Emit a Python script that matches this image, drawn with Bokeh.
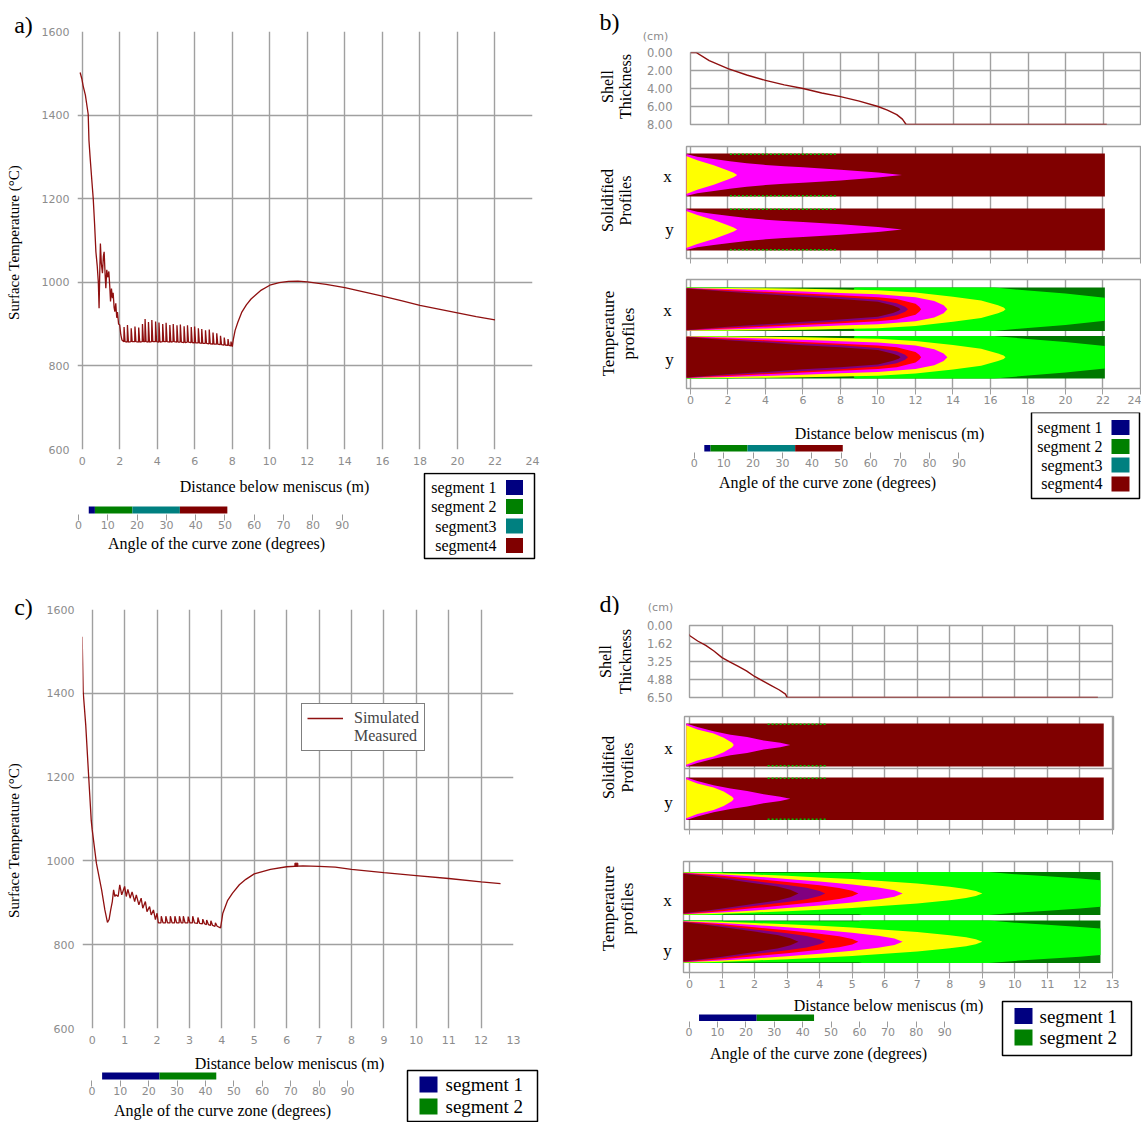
import math
from bokeh.plotting import figure
from bokeh.models import (Range1d, FixedTicker, Label, Legend, LegendItem, LinearAxis, Grid,
                          NumeralTickFormatter, Span)
from bokeh.layouts import column, row
from bokeh.embed import file_html
from bokeh.resources import INLINE
from bokeh.core.properties import value

SERIF = "Liberation Serif"
SANS = "DejaVu Sans"
TICK_GRAY = "#8c8c8c"
GRID = "#a0a0a0"
CURVE = "#8f1010"

# ============================ DATA ============================
# ---- (a) surface temperature, 4-segment caster ----
a_head_x = [-0.11, -0.02, 0.05, 0.17, 0.32, 0.36, 0.42, 0.52, 0.59, 0.66, 0.73, 0.80, 0.86, 0.90,
            0.93, 0.97, 1.02, 1.08, 1.13, 1.17, 1.22, 1.26, 1.31, 1.36, 1.42, 1.47, 1.51, 1.56,
            1.61, 1.65, 1.70, 1.74, 1.79, 1.84, 1.88, 1.94, 2.00, 2.06, 2.12]
a_head_t = [1502, 1487, 1470, 1448, 1402, 1340, 1300, 1240, 1199, 1140, 1073, 1040, 1000, 938,
            1010, 1093, 1045, 1022, 1062, 1073, 1020, 986, 1030, 1012, 1026, 990, 954, 985,
            962, 975, 940, 930, 950, 915, 929, 900, 898, 874, 862]
a_spike_x = [2.22, 2.40, 2.60, 2.80, 3.00, 3.20, 3.34, 3.52, 3.70, 3.90, 4.08, 4.28, 4.46, 4.66,
             4.84, 5.04, 5.22, 5.42, 5.60, 5.80, 5.98, 6.18, 6.36, 6.56, 6.76, 6.96, 7.16, 7.36,
             7.56, 7.76, 7.92]
a_spike_base = [858, 857, 858, 858, 857, 858, 858, 857, 858, 858, 857, 858, 858, 857, 858, 857,
                857, 856, 857, 856, 855, 855, 854, 854, 853, 852, 852, 851, 850, 849, 848]
a_spike_peak = [893, 898, 890, 894, 892, 900, 912, 905, 910, 906, 904, 900, 903, 898, 900, 897,
                899, 895, 897, 893, 894, 890, 888, 885, 887, 880, 878, 872, 868, 864, 858]
a_tail_x = [8.00, 8.05, 8.15, 8.30, 8.50, 8.75, 9.00, 9.50, 10.0, 10.5, 11.0, 11.5, 12.0, 13.0,
            14.0, 15.0, 16.0, 17.0, 18.0, 19.0, 20.0, 21.0, 22.0]
a_tail_t = [846, 862, 885, 905, 928, 946, 960, 980, 993, 999, 1002, 1003, 1001, 995, 987, 977,
            967, 956, 945, 936, 927, 918, 910]

# ---- (c) surface temperature, 2-segment caster ----
c_head_x = [-0.31, -0.28, -0.20, -0.11, -0.03, 0.00, 0.13, 0.29, 0.39, 0.47, 0.52, 0.57, 0.62,
            0.66, 0.70, 0.73, 0.80, 0.85, 0.91, 1.00, 1.05, 1.10, 1.17, 1.23, 1.31, 1.36, 1.44,
            1.51, 1.56, 1.64, 1.69, 1.77, 1.82, 1.89, 1.95, 2.00, 2.04]
c_head_t = [1535, 1405, 1324, 1202, 1096, 1074, 994, 931, 883, 853, 860, 883, 903, 931, 915,
            919, 915, 943, 919, 939, 915, 932, 911, 926, 903, 919, 895, 911, 887, 903, 879, 891,
            871, 883, 860, 875, 852]
c_spike_x = [2.12, 2.26, 2.40, 2.54, 2.68, 2.80, 2.95, 3.09, 3.25, 3.40, 3.52, 3.65, 3.79]
c_spike_base = [852, 852, 852, 852, 852, 852, 852, 852, 851, 850, 848, 846, 844]
c_spike_peak = [868, 868, 868, 868, 868, 868, 867, 868, 865, 861, 859, 857, 852]
c_tail_x = [3.96, 4.03, 4.18, 4.33, 4.54, 4.74, 5.0, 5.5, 6.0, 6.5, 7.0, 7.5, 8.0, 9.0, 10.0,
            11.0, 12.0, 12.6]
c_tail_t = [840, 875, 906, 923, 943, 956, 969, 980, 986, 988, 987, 985, 980, 972, 965, 958, 950,
            946]
c_meas_x = [6.3]
c_meas_t = [991]

# ---- angle of the curve zone (degrees) ----
angle_ticks = [0, 10, 20, 30, 40, 50, 60, 70, 80, 90]
a_seg_start = [3.5, 5.6, 18.4, 34.6]
a_seg_end = [5.6, 18.4, 34.6, 50.8]
b_seg_start = [3.4, 5.5, 18.1, 34.3]
b_seg_end = [5.5, 18.1, 34.3, 50.5]
c_seg_start = [3.6, 23.8]
c_seg_end = [23.8, 43.8]
d_seg_start = [3.5, 23.8]
d_seg_end = [23.8, 44.0]
seg_names4 = ["segment 1", "segment 2", "segment3", "segment4"]
seg_names2 = ["segment 1", "segment 2"]
seg_colors4 = ["#000080", "#008000", "#008080", "#800000"]
seg_colors2 = ["#000080", "#008000"]

# ---- (b) shell thickness (cm) ----
b_shell_x = [0, 0.3, 1, 2, 3, 4, 5, 6, 7, 8, 9, 10, 10.5, 11, 11.3, 11.5, 22.2]
b_shell_y = [0, 0, 0.9, 1.8, 2.5, 3.1, 3.6, 4.0, 4.5, 4.9, 5.4, 6.0, 6.4, 6.9, 7.4, 8.0, 8.0]
b_shell_ticks = [0, 2, 4, 6, 8]
# ---- (d) shell thickness (cm) ----
d_shell_x = [-0.28, -0.1, 0, 0.25, 0.5, 0.75, 1.0, 1.25, 1.5, 1.75, 2.0, 2.25, 2.5, 2.75, 2.95,
             3.0, 12.55]
d_shell_y = [0, 0.5, 0.9, 1.4, 1.8, 2.3, 2.9, 3.3, 3.7, 4.1, 4.6, 5.0, 5.4, 5.8, 6.2, 6.5, 6.5]
d_shell_ticks = [0, 1.62, 3.25, 4.88, 6.5]

# ---- solidified profiles: half-width fraction of strand vs distance ----
b_strip_x = [-0.23, 22.1]
b_sol_mag_x = [-0.23, 0.36, 1.24, 2.1, 3.0, 4.0, 5.0, 6.0, 8.0, 10.0, 11.28]
b_sol_mag_w = [0.98, 0.85, 0.74, 0.64, 0.55, 0.47, 0.41, 0.36, 0.25, 0.12, 0]
b_sol_yel_x = [-0.23, 0.36, 1.24, 1.96, 2.3, 2.49]
b_sol_yel_w = [0.88, 0.69, 0.45, 0.22, 0.10, 0]
b_sol_dots = [2.1, 7.8]
d_sol_strip_x = [-0.1, 12.73]
d_sol_mag_x = [-0.1, 0.24, 0.74, 1.26, 1.77, 2.28, 2.79, 3.1]
d_sol_mag_w = [1.0, 0.84, 0.64, 0.48, 0.37, 0.21, 0.10, 0]
d_sol_yel_x = [-0.1, 0.24, 0.74, 1.05, 1.31, 1.36]
d_sol_yel_w = [0.92, 0.72, 0.53, 0.34, 0.10, 0]
d_sol_dots = [2.4, 4.2]

# ---- temperature profiles: isotherm half-width fraction vs distance ----
b_tmp_lime_x = [-0.23, 2.0, 3.0, 6.9, 8.7, 8.75, 16.2, 18.0, 20.0, 22.1]
b_tmp_lime_w = [1.0, 1.0, 0.97, 0.92, 0.88, 1.0, 1.0, 0.86, 0.72, 0.53]
b_tmp_yel_x = [-0.23, 2, 4, 6, 8, 10, 12, 14, 15.5, 16.4, 16.7, 16.8]
b_tmp_yel_w = [0.99, 0.98, 0.96, 0.94, 0.91, 0.87, 0.77, 0.58, 0.40, 0.18, 0.08, 0]
b_tmp_mag_x = [-0.23, 2, 4, 6, 8, 10, 12, 13, 13.5, 13.7]
b_tmp_mag_w = [0.98, 0.93, 0.88, 0.82, 0.75, 0.69, 0.55, 0.38, 0.18, 0]
b_tmp_red_x = [-0.23, 2, 4, 6, 8, 10, 11, 12, 12.2, 12.3]
b_tmp_red_w = [0.97, 0.88, 0.80, 0.72, 0.64, 0.55, 0.47, 0.25, 0.12, 0]
b_tmp_pur_x = [-0.23, 2, 4, 6, 8, 10, 11, 11.45, 11.6]
b_tmp_pur_w = [0.96, 0.84, 0.75, 0.65, 0.56, 0.44, 0.28, 0.12, 0]
b_tmp_dkr_x = [-0.23, 2, 4, 6, 8, 10, 10.8, 11.1, 11.2]
b_tmp_dkr_w = [0.95, 0.80, 0.69, 0.57, 0.47, 0.34, 0.17, 0.07, 0]

d_tmp_strip_x = [-0.22, 12.63]
d_tmp_lime_x = [-0.22, 1.0, 1.05, 5.2, 5.3, 9.2, 10.0, 11.0, 12.0, 12.63]
d_tmp_lime_w = [1.0, 1.0, 0.96, 0.96, 1.0, 1.0, 0.90, 0.80, 0.70, 0.62]
d_tmp_yel_x = [-0.22, 0.5, 1, 2, 3, 4, 5, 6, 7, 8, 8.5, 8.8, 9.0]
d_tmp_yel_w = [0.98, 0.96, 0.94, 0.88, 0.82, 0.75, 0.67, 0.57, 0.46, 0.31, 0.21, 0.12, 0]
d_tmp_mag_x = [-0.22, 0.5, 1, 2, 3, 4, 5, 5.8, 6.3, 6.55]
d_tmp_mag_w = [0.97, 0.92, 0.88, 0.79, 0.68, 0.56, 0.42, 0.28, 0.15, 0]
d_tmp_red_x = [-0.22, 0.5, 1, 2, 3, 4, 4.6, 5.0, 5.19]
d_tmp_red_w = [0.96, 0.88, 0.82, 0.68, 0.54, 0.38, 0.26, 0.13, 0]
d_tmp_pur_x = [-0.22, 0.5, 1, 2, 3, 3.6, 4.0, 4.17]
d_tmp_pur_w = [0.94, 0.84, 0.76, 0.58, 0.40, 0.27, 0.12, 0]
d_tmp_dkr_x = [-0.22, 0.5, 1, 2, 2.7, 3.1, 3.35]
d_tmp_dkr_w = [0.92, 0.80, 0.70, 0.48, 0.32, 0.17, 0]

a_xticks = [0, 2, 4, 6, 8, 10, 12, 14, 16, 18, 20, 22, 24]
c_xticks = [0, 1, 2, 3, 4, 5, 6, 7, 8, 9, 10, 11, 12, 13]
t_ticks = [600, 800, 1000, 1200, 1400, 1600]

DKRED, PURPLE, RED, MAG, YEL, LIME, DKGRN = ("#800000", "#800080", "#ff0000", "#ff00ff",
                                             "#ffff00", "#00ff00", "#007800")
ROT = math.pi / 2


# ============================ HELPERS ============================
def mkfig(xr, yr, ml, fw, mr, mt, fh, mb):
    p = figure(x_range=Range1d(*xr), y_range=Range1d(*yr), frame_width=fw, frame_height=fh,
               min_border_left=ml, min_border_right=mr, min_border_top=mt, min_border_bottom=mb,
               x_axis_type=None, y_axis_type=None, toolbar_location=None, output_backend="svg")
    try:
        p.frame_align = False
    except Exception:
        pass
    p.outline_line_color = None
    p.background_fill_color = "white"
    p.border_fill_color = "white"
    return p


class Frame:
    """maps page pixel positions to the data space of a figure's frame"""

    def __init__(self, p, l, r, t, b):
        self.p, self.l, self.r, self.t, self.b = p, l, r, t, b

    def lab(self, px, py, text, size, font=SERIF, color="black", align="center", angle=0.0):
        xr, yr = self.p.x_range, self.p.y_range
        x = xr.start + (px - self.l) * (xr.end - xr.start) / (self.r - self.l)
        y = yr.start + (self.b - py) * (yr.end - yr.start) / (self.b - self.t)
        self.p.add_layout(Label(x=x, y=y, text=text, text_font=font, text_font_size=f"{size}px",
                                text_color=color, text_align=align, text_baseline="middle",
                                angle=angle))


def tile(x0, x1, y0, y1):
    p = mkfig((x0, x1), (y1, y0), 0, x1 - x0, 0, 0, y1 - y0, 0)
    return p, Frame(p, x0, x1, y0, y1)


def add_axis(p, side, ticks, show_labels=True, tick_out=0, standoff=6, line_color=None,
             tick_color=None, fmt=None, size="11px"):
    ax = LinearAxis(ticker=FixedTicker(ticks=ticks))
    ax.axis_line_color = line_color
    ax.major_tick_line_color = tick_color
    ax.major_tick_out = tick_out
    ax.major_tick_in = 0
    ax.minor_tick_line_color = None
    ax.major_label_standoff = standoff
    ax.major_label_text_font = SANS
    if show_labels:
        ax.major_label_text_font_size = size
        ax.major_label_text_color = TICK_GRAY
    else:
        ax.major_label_text_font_size = "1px"
        ax.major_label_text_color = None
    if fmt is not None:
        ax.formatter = fmt
    p.add_layout(ax, side)
    return ax


def add_grid(p, dim, ticks, width=1.4):
    p.add_layout(Grid(dimension=dim, ticker=FixedTicker(ticks=ticks), grid_line_color=GRID,
                      grid_line_width=width))


def sawtooth_curve(hx, ht, sx, sb, sp, tx, tt):
    X, Y = list(hx), list(ht)
    for x, b, pk in zip(sx, sb, sp):
        X += [x, x + 0.012, x + 0.065]
        Y += [b, pk, b]
    return X + list(tx), Y + list(tt)


def draw_strips(p, geoms, x0, x1, base, bands):
    for cy, hh in geoms:
        p.quad(left=[x0], right=[x1], bottom=[cy - hh], top=[cy + hh], fill_color=base,
               line_color=None)
        for xs, ws, col in bands:
            px = list(xs) + list(xs[::-1])
            py = [cy + w * hh for w in ws] + [cy - w * hh for w in ws[::-1]]
            p.patch(px, py, fill_color=col, line_color=None)


def angle_fig(xr, ml, fw, mr, mt, fh, mb, starts, ends, colors, y0, y1, standoff):
    p = mkfig(xr, (0, fh), ml, fw, mr, mt, fh, mb)
    p.quad(left=starts, right=ends, bottom=y0, top=y1, fill_color=colors, line_color=None)
    ax = add_axis(p, "below", angle_ticks, tick_out=6, standoff=0, tick_color="#9a9a9a")
    ax.axis_label = "Angle of the curve zone (degrees)"
    ax.axis_label_standoff = standoff
    ax.axis_label_text_font = SERIF
    ax.axis_label_text_font_size = "16px"
    ax.axis_label_text_font_style = "normal"
    ax.axis_label_text_color = "black"
    return p


def seg_legend(x0, x1, y0, y1, box, rows, names, colors, sq_x, sq_w, sq_h, txt_x, align, size):
    p, _ = tile(x0, x1, y0, y1)
    p.quad(left=[box[0]], right=[box[1]], top=[box[2]], bottom=[box[3]], fill_color=None,
           line_color="black", line_width=1.5)
    n = len(names)
    p.rect(x=[sq_x] * n, y=rows, width=sq_w, height=sq_h, fill_color=colors, line_color=None)
    p.text(x=[txt_x] * n, y=rows, text=names, text_align=align, text_baseline="middle",
           text_font=value(SERIF), text_font_size=value(f"{size}px"), text_color="black")
    return p


def temp_main(xr, ml, fw, mr, mt, fh, mb, xticks):
    p = mkfig(xr, (600, 1600), ml, fw, mr, mt, fh, mb)
    add_grid(p, 0, xticks)
    add_grid(p, 1, t_ticks)
    add_axis(p, "below", xticks, standoff=7)
    add_axis(p, "left", t_ticks, standoff=8)
    return p


# page layout starts at x = 4 (observed) and y = 0
# ============================ PANEL A ============================
a_lbl, fal = tile(4, 42, 0, 472)
fal.lab(27, 24, "a)", 24)
fal.lab(17, 242, "Surface Temperature (°C)", 15, angle=ROT)

pa = temp_main((-0.25, 24), 35, 455, 33, 31, 418, 23, a_xticks)
ax_, at_ = sawtooth_curve(a_head_x, a_head_t, a_spike_x, a_spike_base, a_spike_peak,
                          a_tail_x, a_tail_t)
pa.line(ax_, at_, line_color=CURVE, line_width=1.3)

# frame 60..380 x 476..514 ; 0 deg at px 82, 2.93 px/deg
paa = angle_fig((-7.51, 101.71), 56, 320, 45, 4, 38, 51, a_seg_start, a_seg_end, seg_colors4,
                1, 8, 3)
Frame(paa, 60, 380, 476, 514).lab(278, 486, "Distance below meniscus (m)", 16)
pal = seg_legend(425, 565, 472, 565, (428, 538, 473, 558), [487, 506, 525.5, 545], seg_names4,
                 seg_colors4, 518, 17, 15, 500, "right", 16)

# ============================ PANEL C ============================
c_lbl, fcl = tile(4, 46, 565, 1052)
fcl.lab(27, 606, "c)", 24)
fcl.lab(17, 840, "Surface Temperature (°C)", 15, angle=ROT)

pc = temp_main((-0.3, 13), 40, 431, 48, 44, 419, 24, c_xticks)
cx_, ct_ = sawtooth_curve(c_head_x, c_head_t, c_spike_x, c_spike_base, c_spike_peak,
                          c_tail_x, c_tail_t)
sim = pc.line(cx_, ct_, line_color=CURVE, line_width=1.3)
pc.scatter(c_meas_x, c_meas_t, marker="square", size=3, fill_color=CURVE, line_color=CURVE)
meas_key = pc.scatter([], [], marker="square", size=1, fill_alpha=0, line_alpha=0)
leg = Legend(items=[LegendItem(label="Simulated", renderers=[sim]),
                    LegendItem(label="Measured", renderers=[meas_key])],
             location=(219, 277), label_text_font=SERIF, label_text_font_size="16px",
             glyph_width=36, glyph_height=18, label_height=18, label_standoff=11, padding=5,
             spacing=0, margin=0, border_line_color="black", border_line_width=1.5,
             background_fill_alpha=1.0)
pc.add_layout(leg)

# frame 60..392 x 1055..1080 ; 0 deg at px 95.4, 2.84 px/deg
pca = angle_fig((-12.46, 104.44), 56, 332, 13, 3, 25, 42, c_seg_start, c_seg_end, seg_colors2,
                1, 8, 4)
Frame(pca, 60, 392, 1055, 1080).lab(293, 1063, "Distance below meniscus (m)", 16)
pcl = seg_legend(405, 565, 1052, 1122, (411, 541, 1070, 1121), [1084, 1106], seg_names2,
                 seg_colors2, 432, 18, 16, 449, "left", 19)

# ============================ PANEL B ============================
b_head, fbh = tile(565, 1141, 0, 44)
fbh.lab(609, 21, "b)", 24)
fbh.lab(655, 36, "(cm)", 11, font=SANS, color=TICK_GRAY)

b_l1, fb1 = tile(565, 640, 44, 135)
fb1.lab(607, 86, "Shell", 16, angle=ROT)
fb1.lab(625, 86, "Thickness", 16, angle=ROT)

pbs = mkfig((0, 24), (8, 0), 50, 450, 1, 8, 72, 11)
pbs.outline_line_color = GRID
pbs.outline_line_width = 1.4
add_grid(pbs, 0, a_xticks)
add_grid(pbs, 1, b_shell_ticks)
add_axis(pbs, "left", b_shell_ticks, standoff=18, fmt=NumeralTickFormatter(format="0.00"),
         size="11.5px")
pbs.line(b_shell_x, b_shell_y, line_color=CURVE, line_width=1.4)

b_l2, fb2 = tile(565, 680, 135, 270)
fb2.lab(607, 200, "Solidified", 16, angle=ROT)
fb2.lab(625, 200, "Profiles", 16, angle=ROT)
fb2.lab(667, 176, "x", 17)
fb2.lab(669, 229, "y", 17)

pbsol = mkfig((-0.213, 24.0), (0, 112), 6, 454, 1, 11, 112, 12)
pbsol.outline_line_color = GRID
pbsol.outline_line_width = 1.4
add_grid(pbsol, 0, a_xticks)
add_axis(pbsol, "below", a_xticks, show_labels=False, tick_out=5, tick_color=GRID, standoff=0)
b_sol_geo = [(83.5, 21.5), (29.0, 21.0)]
draw_strips(pbsol, b_sol_geo, b_strip_x[0], b_strip_x[1], DKRED,
            [(b_sol_mag_x, b_sol_mag_w, MAG), (b_sol_yel_x, b_sol_yel_w, YEL)])
for cy, hh in b_sol_geo:
    pbsol.multi_line([b_sol_dots, b_sol_dots], [[cy + hh - 0.8] * 2, [cy - hh + 0.8] * 2],
                     line_color="#00c000", line_width=1.5, line_dash="2 2")

b_l3, fb3 = tile(565, 680, 270, 412)
fb3.lab(608, 333, "Temperature", 17, angle=ROT)
fb3.lab(628, 333, "profiles", 17, angle=ROT)
fb3.lab(667, 310, "x", 17)
fb3.lab(669, 359, "y", 17)

pbt = mkfig((-0.213, 24.0), (0, 109), 6, 454, 1, 9, 109, 24)
pbt.outline_line_color = GRID
pbt.outline_line_width = 1.4
add_grid(pbt, 0, a_xticks)
add_axis(pbt, "below", a_xticks, tick_out=6, tick_color=GRID, standoff=1)
b_tmp_geo = [(79.25, 21.75), (31.25, 21.25)]
draw_strips(pbt, b_tmp_geo, b_strip_x[0], b_strip_x[1], DKGRN,
            [(b_tmp_lime_x, b_tmp_lime_w, LIME), (b_tmp_yel_x, b_tmp_yel_w, YEL),
             (b_tmp_mag_x, b_tmp_mag_w, MAG), (b_tmp_red_x, b_tmp_red_w, RED),
             (b_tmp_pur_x, b_tmp_pur_w, PURPLE), (b_tmp_dkr_x, b_tmp_dkr_w, DKRED)])

# frame 668..986 x 418..452 ; 0 deg at px 693.8, 2.94 px/deg
pba = angle_fig((-8.78, 99.39), 103, 318, 39, 6, 34, 113, b_seg_start, b_seg_end, seg_colors4,
                1, 7.4, 4)
Frame(pba, 668, 986, 418, 452).lab(889, 433, "Distance below meniscus (m)", 16)
pbl = seg_legend(1025, 1141, 412, 565, (1031, 1139, 412, 498), [427, 446, 464.5, 483.4],
                 seg_names4, seg_colors4, 1120, 18, 15, 1102, "right", 16)

# ============================ PANEL D ============================
d_head, fdh = tile(565, 1141, 565, 615)
fdh.lab(609, 603, "d)", 24)
fdh.lab(660, 607, "(cm)", 11, font=SANS, color=TICK_GRAY)

d_l1, fd1 = tile(565, 640, 615, 706)
fd1.lab(605, 661, "Shell", 16, angle=ROT)
fd1.lab(625, 661, "Thickness", 16, angle=ROT)

pds = mkfig((0, 13), (6.5, 0), 49, 423, 29, 10, 72, 9)
pds.outline_line_color = GRID
pds.outline_line_width = 1.4
add_grid(pds, 0, c_xticks)
add_grid(pds, 1, d_shell_ticks)
add_axis(pds, "left", d_shell_ticks, standoff=17, fmt=NumeralTickFormatter(format="0.00"),
         size="11.5px")
pds.line(d_shell_x, d_shell_y, line_color=CURVE, line_width=1.4)

d_l2, fd2 = tile(565, 680, 706, 838)
fd2.lab(608, 767, "Solidified", 16, angle=ROT)
fd2.lab(627, 767, "Profiles", 16, angle=ROT)
fd2.lab(668, 748, "x", 17)
fd2.lab(668, 802, "y", 17)

pdsol = mkfig((-0.154, 13.03), (0, 113), 4, 429, 28, 10, 113, 9)
pdsol.outline_line_color = GRID
pdsol.outline_line_width = 1.4
add_grid(pdsol, 0, c_xticks)
add_axis(pdsol, "below", c_xticks, show_labels=False, tick_out=5, tick_color=GRID, standoff=0)
pdsol.add_layout(Span(location=61, dimension="width", line_color=GRID, line_width=1.4))
d_sol_geo = [(84.5, 21.5), (30.75, 21.25)]
draw_strips(pdsol, d_sol_geo, d_sol_strip_x[0], d_sol_strip_x[1], DKRED,
            [(d_sol_mag_x, d_sol_mag_w, MAG), (d_sol_yel_x, d_sol_yel_w, YEL)])
for cy, hh in d_sol_geo:
    pdsol.multi_line([d_sol_dots, d_sol_dots], [[cy + hh - 0.8] * 2, [cy - hh + 0.8] * 2],
                     line_color="#00c000", line_width=1.5, line_dash="2 2")

d_l3, fd3 = tile(565, 680, 838, 995)
fd3.lab(608, 908, "Temperature", 17, angle=ROT)
fd3.lab(627, 908, "profiles", 17, angle=ROT)
fd3.lab(667, 900, "x", 17)
fd3.lab(667, 950, "y", 17)

pdt = mkfig((-0.184, 13.0), (0, 111), 3, 429, 29, 23, 111, 23)
pdt.outline_line_color = GRID
pdt.outline_line_width = 1.4
add_grid(pdt, 0, c_xticks)
add_axis(pdt, "below", c_xticks, tick_out=6, tick_color=GRID, standoff=1)
d_tmp_geo = [(79.0, 21.5), (30.75, 21.25)]
draw_strips(pdt, d_tmp_geo, d_tmp_strip_x[0], d_tmp_strip_x[1], DKGRN,
            [(d_tmp_lime_x, d_tmp_lime_w, LIME), (d_tmp_yel_x, d_tmp_yel_w, YEL),
             (d_tmp_mag_x, d_tmp_mag_w, MAG), (d_tmp_red_x, d_tmp_red_w, RED),
             (d_tmp_pur_x, d_tmp_pur_w, PURPLE), (d_tmp_dkr_x, d_tmp_dkr_w, DKRED)])

# frame 650..986 x 997..1021 ; 0 deg at px 688.6, 2.84 px/deg
pda = angle_fig((-13.59, 104.72), 85, 336, 14, 2, 24, 101, d_seg_start, d_seg_end, seg_colors2,
                0.5, 7, 6)
Frame(pda, 650, 986, 997, 1021).lab(888, 1005, "Distance below meniscus (m)", 16)
pdl = seg_legend(1000, 1141, 995, 1122, (1002, 1131, 1001, 1055), [1015.5, 1037], seg_names2,
                 seg_colors2, 1023, 18, 16, 1039, "left", 19)

# ============================ LAYOUT ============================
left = column(row(a_lbl, pa), row(paa, pal), row(c_lbl, pc), row(pca, pcl))
right = column(b_head, row(b_l1, pbs), row(b_l2, pbsol), row(b_l3, pbt), row(pba, pbl),
               d_head, row(d_l1, pds), row(d_l2, pdsol), row(d_l3, pdt), row(pda, pdl))
layout = row(left, right)

open("out.html", "w").write(file_html(layout, INLINE))
